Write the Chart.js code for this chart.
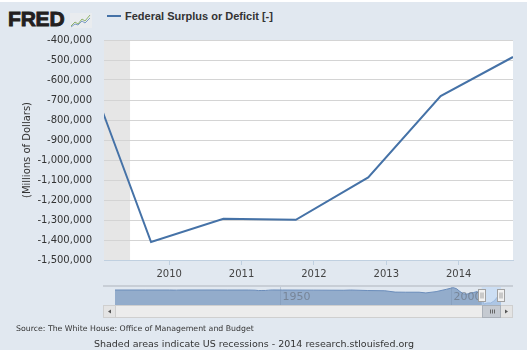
<!DOCTYPE html>
<html>
<head>
<meta charset="utf-8">
<script src="https://cdn.jsdelivr.net/npm/chart.js@4"></script>
<style>
  html, body { margin: 0; padding: 0; background: #ffffff; }
  #wrap { position: relative; width: 527px; height: 350px; top: 2px; background: #e1e8f0; overflow: hidden; font-family: "DejaVu Sans", sans-serif; color: #333; }
  #main { position: absolute; left: 0; top: -2px; }
  #nav { position: absolute; left: 103px; top: 282px; }
  .logo { position: absolute; left: 8px; top: 5px; font: bold 21px "Liberation Sans", Arial, sans-serif; color: #231f20; -webkit-text-stroke: 0.9px #231f20; letter-spacing: -0.2px; }
  .logo svg { position: absolute; left: 62px; top: 6px; }
  .legend { position: absolute; left: 107px; top: 8px; font: bold 11px "Liberation Sans", Arial, sans-serif; color: #333; white-space: nowrap; }
  .legend i { display: inline-block; width: 14px; height: 2px; background: #4572a7; vertical-align: middle; margin-right: 4px; position: relative; top: -1px; }
  .source { position: absolute; left: 16px; top: 322px; font-size: 7.8px; color: #333; white-space: nowrap; }
  .foot { position: absolute; left: 0; width: 508px; text-align: center; top: 336px; font-size: 9.5px; color: #333; white-space: nowrap; }
</style>
</head>
<body>
<div id="wrap">
  <div class="logo">FRED<svg width="22" height="15" viewBox="0 0 22 15">
    <rect x="0" y="0" width="22" height="15" fill="#e9ecef"/>
    <polyline points="1,13 5,9 8,11 12,6 15,8 20,2" fill="none" stroke="#8fb36a" stroke-width="1"/>
    <polyline points="1,14 5,11 8,12 12,8 15,10 20,5" fill="none" stroke="#7d9cc6" stroke-width="1"/>
  </svg></div>
  <div class="legend"><i></i>Federal Surplus or Deficit [-]</div>
  <canvas id="main" width="530" height="285"></canvas>
  <canvas id="nav" width="410" height="35"></canvas>
  <div class="source">Source: The White House: Office of Management and Budget</div>
  <div class="foot">Shaded areas indicate US recessions - 2014 research.stlouisfed.org</div>
</div>
<script>
// fiscal years, plotted at the end of each fiscal year (decimal years)
const fiscalDates = [2008.75, 2009.75, 2010.75, 2011.75, 2012.75, 2013.75, 2014.75];
const deficit = [-435000, -1410000, -1294000, -1299000, -1087000, -680000, -485000];

const xTicks = [2010, 2011, 2012, 2013, 2014];
const yMin = -1500000, yMax = -400000, yStep = 100000;
const viewStart = 2009.1, viewEnd = 2014.75;

const recessionStart = [2007.92];
const recessionEnd = [2009.46];

// full history for the navigator strip
const navDates = [1901.75, 1910.75, 1917.75, 1918.75, 1919.75, 1920.75, 1930.75, 1934.75, 1940.75, 1942.75, 1943.75, 1944.75, 1945.75, 1946.75, 1947.75, 1950.75, 1959.75, 1968.75, 1970.75, 1975.75, 1980.75, 1983.75, 1986.75, 1990.75, 1992.75, 1995.75, 1998.75, 2000.75, 2001.75, 2002.75, 2003.75, 2004.75, 2006.75, 2007.75, 2008.75, 2009.75, 2010.75, 2011.75, 2012.75, 2013.75, 2014.75];
const navValues = [0, 0, -1000, -9000, -13000, 0, 1000, -4000, -3000, -20000, -55000, -48000, -48000, -16000, 4000, -3000, -13000, -25000, -3000, -53000, -74000, -208000, -221000, -221000, -290000, -164000, 69000, 236000, 128000, -158000, -378000, -413000, -248000, -161000, -459000, -1410000, -1294000, -1299000, -1087000, -680000, -485000];
const navLabels = [1950, 2000];

const fmt = v => v.toLocaleString('en-US');

const plotBg = {
  id: 'plotBg',
  beforeDraw(chart) {
    const { ctx, chartArea: a, scales: { x } } = chart;
    ctx.save();
    ctx.fillStyle = '#ffffff';
    ctx.fillRect(a.left, a.top, a.right - a.left, a.bottom - a.top);
    ctx.fillStyle = '#e6e6e6';
    recessionStart.forEach((s, i) => {
      const x0 = Math.max(x.getPixelForValue(s), a.left);
      const x1 = Math.min(x.getPixelForValue(recessionEnd[i]), a.right);
      if (x1 > x0) ctx.fillRect(x0, a.top, x1 - x0, a.bottom - a.top);
    });
    ctx.restore();
  }
};

new Chart(document.getElementById('main'), {
  type: 'line',
  data: {
    datasets: [{
      data: fiscalDates.map((d, i) => ({ x: d, y: deficit[i] })),
      borderColor: '#4572a7',
      borderWidth: 2,
      pointRadius: 0,
      tension: 0,
      fill: false
    }]
  },
  options: {
    responsive: false,
    animation: false,
    devicePixelRatio: 1,
    layout: { padding: { top: 40, right: 17, left: 0, bottom: 0 } },
    plugins: { legend: { display: false }, tooltip: { enabled: false } },
    scales: {
      x: {
        type: 'linear',
        min: viewStart,
        max: viewEnd,
        afterBuildTicks: s => { s.ticks = xTicks.map(v => ({ value: v })); },
        afterFit: s => { s.height = 25; },
        ticks: { callback: v => String(v), color: '#444', padding: 3, font: { family: 'DejaVu Sans', size: 10 } },
        grid: { drawOnChartArea: false, drawTicks: true, tickLength: 5, color: '#c0d0e0' },
        border: { color: '#c0d0e0', width: 1 }
      },
      y: {
        min: yMin,
        max: yMax,
        afterFit: s => { s.width = 104; },
        ticks: { stepSize: yStep, callback: v => fmt(v), color: '#333', padding: 12, font: { family: 'DejaVu Sans', size: 10 } },
        grid: { color: '#d4d4d4', drawTicks: false },
        border: { display: false },
        title: { display: true, text: '(Millions of Dollars)', color: '#333', padding: { top: 21, bottom: 0 }, font: { family: 'DejaVu Sans', size: 10 } }
      }
    }
  },
  plugins: [plotBg]
});

const navExtras = {
  id: 'navExtras',
  beforeDraw(chart) {
    const { ctx, width } = chart;
    ctx.save();
    ctx.strokeStyle = '#c8ced6';
    ctx.lineWidth = 2;
    ctx.beginPath(); ctx.moveTo(0, 2); ctx.lineTo(width, 2); ctx.stroke();
    ctx.restore();
  },
  afterDatasetsDraw(chart) {
    const { ctx, chartArea: a, scales: { x }, width } = chart;
    ctx.save();
    // axis labels
    ctx.font = '11px "DejaVu Sans"';
    ctx.textBaseline = 'middle';
    navLabels.forEach(v => {
      const px = Math.round(x.getPixelForValue(v)) + 0.5;
      ctx.strokeStyle = 'rgba(120,140,170,0.35)';
      ctx.lineWidth = 1;
      ctx.beginPath(); ctx.moveTo(px, a.top); ctx.lineTo(px, a.bottom); ctx.stroke();
      ctx.fillStyle = 'rgba(110,120,135,0.75)';
      ctx.fillText(String(v), px + 2, (a.top + a.bottom) / 2 + 1);
    });
    // selected range
    const s0 = x.getPixelForValue(viewStart), s1 = x.getPixelForValue(viewEnd);
    ctx.fillStyle = 'rgba(190,215,245,0.6)';
    ctx.fillRect(s0, a.top, s1 - s0, a.bottom - a.top);
    // handles
    [s0, s1].forEach(h => {
      const hx = Math.round(h) - 3.5, hy = a.top + 2.5;
      ctx.fillStyle = '#f2f2f2';
      ctx.strokeStyle = '#a0a0a0';
      ctx.lineWidth = 1;
      ctx.fillRect(hx, hy, 7, 12);
      ctx.strokeRect(hx, hy, 7, 12);
      ctx.beginPath();
      ctx.moveTo(hx + 2.5, hy + 3); ctx.lineTo(hx + 2.5, hy + 9);
      ctx.moveTo(hx + 4.5, hy + 3); ctx.lineTo(hx + 4.5, hy + 9);
      ctx.stroke();
    });
    // scrollbar
    const sy = a.bottom + 0.5, sh = 12;
    ctx.fillStyle = '#ececec';
    ctx.strokeStyle = '#cfcfcf';
    ctx.fillRect(0.5, sy, width - 1, sh);
    ctx.strokeRect(0.5, sy, width - 1, sh);
    [[0.5, -1], [width - 12.5, 1]].forEach(([bx, dir]) => {
      ctx.fillStyle = '#e4e4e4';
      ctx.fillRect(bx, sy, 12, sh);
      ctx.strokeRect(bx, sy, 12, sh);
      ctx.fillStyle = '#555';
      const cx = bx + 6, cy = sy + sh / 2;
      ctx.beginPath();
      ctx.moveTo(cx - 1.5 * dir, cy - 2); ctx.lineTo(cx + 1.5 * dir, cy); ctx.lineTo(cx - 1.5 * dir, cy + 2);
      ctx.closePath(); ctx.fill();
    });
    const t0 = Math.round(s0) + 0.5, t1 = width - 12.5;
    ctx.fillStyle = '#c5cad1';
    ctx.strokeStyle = '#aab0b8';
    ctx.fillRect(t0, sy, t1 - t0, sh);
    ctx.strokeRect(t0, sy, t1 - t0, sh);
    ctx.strokeStyle = '#666';
    const tc = Math.round((t0 + t1) / 2) + 0.5;
    ctx.beginPath();
    [-2, 0, 2].forEach(d => { ctx.moveTo(tc + d, sy + 4); ctx.lineTo(tc + d, sy + 8); });
    ctx.stroke();
    ctx.restore();
  }
};

new Chart(document.getElementById('nav'), {
  type: 'line',
  data: {
    datasets: [{
      data: navDates.map((d, i) => ({ x: d, y: navValues[i] })),
      borderColor: '#6a8cba',
      borderWidth: 1,
      backgroundColor: '#93accb',
      fill: 'start',
      pointRadius: 0,
      tension: 0
    }]
  },
  options: {
    responsive: false,
    animation: false,
    devicePixelRatio: 1,
    layout: { padding: { left: 12, right: 12, top: 3, bottom: 14 } },
    plugins: { legend: { display: false }, tooltip: { enabled: false } },
    scales: {
      x: { type: 'linear', display: false, min: navDates[0], max: navDates[navDates.length - 1] },
      y: { display: false, min: -1500000, max: 300000 }
    }
  },
  plugins: [navExtras]
});
</script>
</body>
</html>
